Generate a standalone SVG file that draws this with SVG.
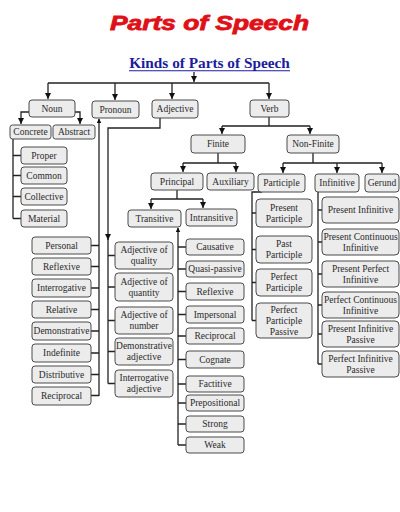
<svg xmlns="http://www.w3.org/2000/svg" width="400" height="512" viewBox="0 0 400 512">
<style>
.n rect{fill:#ececec;stroke:#4a4a4a;stroke-width:1}
.n text{font-family:"Liberation Serif","Times New Roman",serif;font-size:9.5px;fill:#2a2a2a;text-anchor:middle}
.c{fill:none;stroke:#222;stroke-width:1.3}
</style>
<defs>
<marker id="a" markerUnits="userSpaceOnUse" markerWidth="7" markerHeight="7" refX="6" refY="3" orient="auto"><path d="M0,0 L6,3 L0,6 z" fill="#111"/></marker>
<marker id="s" markerUnits="userSpaceOnUse" markerWidth="5" markerHeight="5" refX="4" refY="2.25" orient="auto"><path d="M0,0 L4.5,2.25 L0,4.5 z" fill="#111"/></marker>
</defs>
<rect width="400" height="512" fill="#fff"/>
<g id="title">
<text x="209.5" y="29.5" textLength="199" lengthAdjust="spacingAndGlyphs" font-family="Liberation Sans, Arial, sans-serif" font-weight="bold" font-style="italic" font-size="19.5" fill="#e01018" stroke="#e01018" stroke-width="0.8" text-anchor="middle">Parts of Speech</text>
<text x="209.5" y="68" font-family="Liberation Serif, Times New Roman, serif" font-weight="bold" font-size="15.3" fill="#1c1c9c" text-anchor="middle">Kinds of Parts of Speech</text>
<line x1="129" y1="70.8" x2="290" y2="70.8" stroke="#1c1c9c" stroke-width="1.1"/>
</g>
<g id="connectors" class="c">
<path d="M194,72 V82" marker-end="url(#a)"/>
<path d="M48,83 H269"/>
<path d="M48,83 V99" marker-end="url(#a)"/>
<path d="M115,83 V100" marker-end="url(#a)"/>
<path d="M172,83 V99" marker-end="url(#a)"/>
<path d="M269,83 V99" marker-end="url(#a)"/>
<path d="M29,112 H21 V124" marker-end="url(#a)"/>
<path d="M75,112 H80 V124" marker-end="url(#a)"/>
<path d="M13,139 V218.5 M13,155.5 H21 M13,175.5 H21 M13,196.5 H21 M13,218.5 H21"/>
<path d="M99,396 V119" marker-end="url(#s)"/>
<path d="M91,245.5 H99 M91,266.5 H99 M91,288 H99 M91,309.5 H99 M91,331 H99 M91,353 H99 M91,374.5 H99 M91,395.5 H99"/>
<path d="M160,118 V128 H108 V240" marker-end="url(#a)"/>
<path d="M108,238 V383.5 M108,255.5 H115 M108,287 H115 M108,320.5 H115 M108,351.5 H115 M108,383.5 H115"/>
<path d="M269,117 V126 M222,126 H310"/>
<path d="M222,126 V134" marker-end="url(#a)"/>
<path d="M310,126 V134" marker-end="url(#a)"/>
<path d="M218,153 V163 M183,163 H236"/>
<path d="M183,163 V172" marker-end="url(#a)"/>
<path d="M236,163 V172" marker-end="url(#a)"/>
<path d="M313,153 V163 M283,163 H382"/>
<path d="M283,163 V173" marker-end="url(#a)"/>
<path d="M337,163 V173" marker-end="url(#a)"/>
<path d="M382,163 V173" marker-end="url(#a)"/>
<path d="M177,190 V199 M151,199 H203"/>
<path d="M151,199 V209" marker-end="url(#a)"/>
<path d="M203,199 V208" marker-end="url(#a)"/>
<path d="M178,445 V228" marker-end="url(#s)"/>
<path d="M178,247 H186 M178,269 H186 M178,291.5 H186 M178,314.5 H186 M178,336 H186 M178,359.5 H186 M178,384 H186 M178,403 H186 M178,424 H186 M178,445 H186"/>
<path d="M262,192 H252 V320.5 M252,213 H256 M252,249.5 H256 M252,282.5 H256 M252,320.5 H256"/>
<path d="M318,192 V364 M318,210 H322 M318,242 H322 M318,274 H322 M318,305 H322 M318,334 H322 M318,364 H322"/>
</g>
<g id="noun" class="n"><rect x="29" y="100" width="46" height="17" rx="3"/><text x="52" y="111.8">Noun</text></g>
<g id="pronoun" class="n"><rect x="92" y="101" width="47" height="17" rx="3"/><text x="115.5" y="112.8">Pronoun</text></g>
<g id="adjective" class="n"><rect x="152" y="100" width="46" height="18" rx="3"/><text x="175" y="112.3">Adjective</text></g>
<g id="verb" class="n"><rect x="250" y="100" width="39" height="17" rx="3"/><text x="269.5" y="111.8">Verb</text></g>
<g id="concrete" class="n"><rect x="10" y="125" width="41" height="14" rx="2.5"/><text x="30.5" y="135.3">Concrete</text></g>
<g id="abstract" class="n"><rect x="53" y="125" width="42" height="14" rx="2.5"/><text x="74" y="135.3">Abstract</text></g>
<g id="proper" class="n"><rect x="21" y="147" width="46" height="17" rx="3"/><text x="44" y="158.8">Proper</text></g>
<g id="common" class="n"><rect x="21" y="167" width="46" height="17" rx="3"/><text x="44" y="178.8">Common</text></g>
<g id="collective" class="n"><rect x="21" y="188" width="46" height="17" rx="3"/><text x="44" y="199.8">Collective</text></g>
<g id="material" class="n"><rect x="21" y="210" width="46" height="17" rx="3"/><text x="44" y="221.8">Material</text></g>
<g id="personal" class="n"><rect x="32" y="237" width="59" height="17" rx="3"/><text x="61.5" y="248.8">Personal</text></g>
<g id="reflexive-pron" class="n"><rect x="32" y="258" width="59" height="17" rx="3"/><text x="61.5" y="269.8">Reflexive</text></g>
<g id="interrogative-pron" class="n"><rect x="32" y="279" width="59" height="18" rx="3"/><text x="61.5" y="291.3">Interrogative</text></g>
<g id="relative" class="n"><rect x="32" y="301" width="59" height="17" rx="3"/><text x="61.5" y="312.8">Relative</text></g>
<g id="demonstrative-pron" class="n"><rect x="32" y="322" width="59" height="18" rx="3"/><text x="61.5" y="334.3">Demonstrative</text></g>
<g id="indefinite" class="n"><rect x="32" y="344" width="59" height="18" rx="3"/><text x="61.5" y="356.3">Indefinite</text></g>
<g id="distributive" class="n"><rect x="32" y="366" width="59" height="17" rx="3"/><text x="61.5" y="377.8">Distributive</text></g>
<g id="reciprocal-pron" class="n"><rect x="32" y="387" width="59" height="18" rx="3"/><text x="61.5" y="399.3">Reciprocal</text></g>
<g id="adj-quality" class="n"><rect x="115" y="242" width="58" height="27" rx="3.5"/><text x="144" y="253.3">Adjective of</text><text x="144" y="264.3">quality</text></g>
<g id="adj-quantity" class="n"><rect x="115" y="273" width="58" height="28" rx="3.5"/><text x="144" y="284.8">Adjective of</text><text x="144" y="295.8">quantity</text></g>
<g id="adj-number" class="n"><rect x="115" y="307" width="58" height="27" rx="3.5"/><text x="144" y="318.3">Adjective of</text><text x="144" y="329.3">number</text></g>
<g id="adj-demonstrative" class="n"><rect x="115" y="338" width="58" height="27" rx="3.5"/><text x="144" y="349.3">Demonstrative</text><text x="144" y="360.3">adjective</text></g>
<g id="adj-interrogative" class="n"><rect x="115" y="370" width="58" height="27" rx="3.5"/><text x="144" y="381.3">Interrogative</text><text x="144" y="392.3">adjective</text></g>
<g id="finite" class="n"><rect x="191" y="135" width="54" height="18" rx="3"/><text x="218" y="147.3">Finite</text></g>
<g id="non-finite" class="n"><rect x="287" y="135" width="52" height="18" rx="3"/><text x="313" y="147.3">Non-Finite</text></g>
<g id="principal" class="n"><rect x="151" y="173" width="52" height="17" rx="3"/><text x="177" y="184.8">Principal</text></g>
<g id="auxiliary" class="n"><rect x="207" y="173" width="47" height="17" rx="3"/><text x="230.5" y="184.8">Auxiliary</text></g>
<g id="participle" class="n"><rect x="258" y="174" width="47" height="18" rx="3"/><text x="281.5" y="186.3">Participle</text></g>
<g id="infinitive" class="n"><rect x="315" y="174" width="44" height="18" rx="3"/><text x="337" y="186.3">Infinitive</text></g>
<g id="gerund" class="n"><rect x="365" y="174" width="34" height="18" rx="3"/><text x="382" y="186.3">Gerund</text></g>
<g id="transitive" class="n"><rect x="128" y="210" width="53" height="17" rx="3"/><text x="154.5" y="221.8">Transitive</text></g>
<g id="intransitive" class="n"><rect x="186" y="209" width="51" height="17" rx="3"/><text x="211.5" y="220.8">Intransitive</text></g>
<g id="causative" class="n"><rect x="186" y="239" width="58" height="16" rx="3"/><text x="215" y="250.3">Causative</text></g>
<g id="quasi-passive" class="n"><rect x="186" y="261" width="58" height="16" rx="3"/><text x="215" y="272.3">Quasi-passive</text></g>
<g id="reflexive-verb" class="n"><rect x="186" y="283" width="58" height="17" rx="3"/><text x="215" y="294.8">Reflexive</text></g>
<g id="impersonal" class="n"><rect x="186" y="306" width="58" height="17" rx="3"/><text x="215" y="317.8">Impersonal</text></g>
<g id="reciprocal-verb" class="n"><rect x="186" y="328" width="58" height="16" rx="3"/><text x="215" y="339.3">Reciprocal</text></g>
<g id="cognate" class="n"><rect x="186" y="351" width="58" height="17" rx="3"/><text x="215" y="362.8">Cognate</text></g>
<g id="factitive" class="n"><rect x="186" y="376" width="58" height="16" rx="3"/><text x="215" y="387.3">Factitive</text></g>
<g id="prepositional" class="n"><rect x="186" y="395" width="58" height="16" rx="3"/><text x="215" y="406.3">Prepositional</text></g>
<g id="strong" class="n"><rect x="186" y="416" width="58" height="16" rx="3"/><text x="215" y="427.3">Strong</text></g>
<g id="weak" class="n"><rect x="186" y="437" width="58" height="16" rx="3"/><text x="215" y="448.3">Weak</text></g>
<g id="present-participle" class="n"><rect x="256" y="199" width="56" height="28" rx="4"/><text x="284" y="210.8">Present</text><text x="284" y="221.8">Participle</text></g>
<g id="past-participle" class="n"><rect x="256" y="236" width="56" height="27" rx="4"/><text x="284" y="247.3">Past</text><text x="284" y="258.3">Participle</text></g>
<g id="perfect-participle" class="n"><rect x="256" y="269" width="56" height="27" rx="4"/><text x="284" y="280.3">Perfect</text><text x="284" y="291.3">Participle</text></g>
<g id="perfect-participle-passive" class="n"><rect x="256" y="303" width="56" height="35" rx="4"/><text x="284" y="312.8">Perfect</text><text x="284" y="323.8">Participle</text><text x="284" y="334.8">Passive</text></g>
<g id="present-infinitive" class="n"><rect x="322" y="197" width="77" height="26" rx="4"/><text x="360.5" y="213.3">Present Infinitive</text></g>
<g id="present-continuous-infinitive" class="n"><rect x="322" y="229" width="77" height="26" rx="4"/><text x="360.5" y="239.8">Present Continuous</text><text x="360.5" y="250.8">Infinitive</text></g>
<g id="present-perfect-infinitive" class="n"><rect x="322" y="261" width="77" height="26" rx="4"/><text x="360.5" y="271.8">Present Perfect</text><text x="360.5" y="282.8">Infinitive</text></g>
<g id="perfect-continuous-infinitive" class="n"><rect x="322" y="292" width="77" height="26" rx="4"/><text x="360.5" y="302.8">Perfect Continuous</text><text x="360.5" y="313.8">Infinitive</text></g>
<g id="present-infinitive-passive" class="n"><rect x="322" y="321" width="77" height="26" rx="4"/><text x="360.5" y="331.8">Present Infinitive</text><text x="360.5" y="342.8">Passive</text></g>
<g id="perfect-infinitive-passive" class="n"><rect x="322" y="351" width="77" height="26" rx="4"/><text x="360.5" y="361.8">Perfect Infinitive</text><text x="360.5" y="372.8">Passive</text></g>
</svg>
